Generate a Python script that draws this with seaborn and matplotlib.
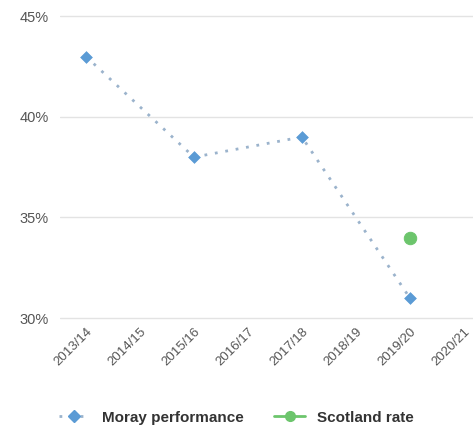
import pandas as pd
import numpy as np
import matplotlib
matplotlib.use('Agg')
import matplotlib.pyplot as plt
import seaborn as sns
from matplotlib.lines import Line2D

# Data
years = ['2013/14', '2014/15', '2015/16', '2016/17', '2017/18', '2018/19', '2019/20', '2020/21']
moray = [43, np.nan, 38, np.nan, 39, np.nan, 31, np.nan]
scotland = [np.nan, np.nan, np.nan, np.nan, np.nan, np.nan, 34, np.nan]
y_ticks = [30, 35, 40, 45]

blue = '#5b9bd5'
green = '#6cc56c'
grey_text = '#555555'

df = pd.DataFrame({'year': years, 'pos': range(len(years)), 'Moray': moray, 'Scotland': scotland})
moray_df = df.dropna(subset=['Moray'])
scot_df = df.dropna(subset=['Scotland'])

sns.set_style('white')
plt.rcParams['font.family'] = ['Liberation Sans', 'DejaVu Sans']

fig = plt.figure(figsize=(4.73, 4.32), dpi=100)
ax = fig.add_axes([0.127, 0.259, 0.873, 0.708])

# dotted connector + diamond markers
sns.lineplot(data=moray_df, x='pos', y='Moray', ax=ax, color='#9bb3cc',
             linestyle=(0, (1, 2.8)), linewidth=2.0, marker=None, legend=False)
sns.scatterplot(data=moray_df, x='pos', y='Moray', ax=ax, marker='D', s=36,
                color=blue, edgecolor=blue, zorder=3, legend=False)
sns.scatterplot(data=scot_df, x='pos', y='Scotland', ax=ax, marker='o', s=80,
                color=green, edgecolor=green, zorder=3, legend=False)

ax.set_xlim(-0.48, 7.17)
ax.set_ylim(29.9, 45.1)
ax.set_yticks(y_ticks)
ax.set_yticklabels([f'{t}%' for t in y_ticks], color=grey_text, fontsize=10.5)
ax.set_xticks(range(len(years)))
ax.set_xticklabels(years, rotation=45, ha='right', rotation_mode='anchor',
                   color=grey_text, fontsize=9.5)
ax.tick_params(axis='both', length=0, pad=8)
ax.tick_params(axis='x', pad=4)
ax.grid(axis='y', color='#e3e3e3', linewidth=1)
ax.grid(axis='x', visible=False)
for s in ax.spines.values():
    s.set_visible(False)
ax.set_xlabel('')
ax.set_ylabel('')

handles = [
    Line2D([0], [0], color='#9bb3cc', linestyle=(0, (1, 2.8)), linewidth=2.0,
           marker='D', markersize=6, markerfacecolor=blue, markeredgecolor=blue),
    Line2D([0], [0], color=green, linewidth=2, marker='o', markersize=7,
           markerfacecolor=green, markeredgecolor=green),
]
leg = fig.legend(handles, ['Moray performance', 'Scotland rate'], loc='center',
                 bbox_to_anchor=(0.5, 0.033), ncol=2, frameon=False,
                 prop={'weight': 'bold', 'size': 11}, handlelength=2.0,
                 columnspacing=2.0)
for t in leg.get_texts():
    t.set_color('#333333')

fig.savefig('out.png', dpi=100)
